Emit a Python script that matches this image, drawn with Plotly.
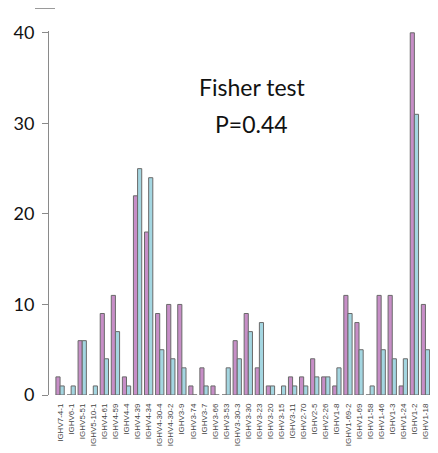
import plotly.graph_objects as go

categories = ["IGHV7-4-1", "IGHV6-1", "IGHV5-51", "IGHV5-10-1", "IGHV4-61", "IGHV4-59",
              "IGHV4-4", "IGHV4-39", "IGHV4-34", "IGHV4-30-4", "IGHV4-30-2", "IGHV3-9",
              "IGHV3-74", "IGHV3-7", "IGHV3-66", "IGHV3-53", "IGHV3-30-3", "IGHV3-30",
              "IGHV3-23", "IGHV3-20", "IGHV3-15", "IGHV3-11", "IGHV2-70", "IGHV2-5",
              "IGHV2-26", "IGHV1-8", "IGHV1-69-2", "IGHV1-69", "IGHV1-58", "IGHV1-46",
              "IGHV1-3", "IGHV1-24", "IGHV1-2", "IGHV1-18"]
group1 = [2, 0, 6, 0, 9, 11, 2, 22, 18, 9, 10, 10, 1, 3, 1, 0, 6, 9, 3, 1, 0, 2, 2, 4,
          2, 1, 11, 8, 0, 11, 11, 1, 40, 10]
group2 = [1, 1, 6, 1, 4, 7, 1, 25, 24, 5, 4, 3, 0, 1, 0, 3, 4, 7, 8, 1, 1, 1, 1, 2,
          2, 3, 9, 5, 1, 5, 4, 4, 31, 5]
y_ticks = [0, 10, 20, 30, 40]

fig = go.Figure()
fig.add_trace(go.Bar(x=categories, y=group1, name="Group 1",
                     marker=dict(color="#c78ec7", line=dict(color="#6a6a6a", width=1))))
fig.add_trace(go.Bar(x=categories, y=group2, name="Group 2",
                     marker=dict(color="#a4d6e1", line=dict(color="#6a6a6a", width=1))))

# page body has an 8px margin, so the figure is offset by 8px
W, H = 430, 445
ml, mr, mt, mb = 41, 7, 23, 58
ph = H - mt - mb
pw = W - ml - mr
fig.update_layout(
    width=W, height=H,
    margin=dict(l=ml, r=mr, t=mt, b=mb, pad=0),
    plot_bgcolor="white", paper_bgcolor="white",
    showlegend=False,
    barmode="group", bargap=0.25, bargroupgap=0,
    xaxis=dict(type="category", range=[-1.0, 33.5], showline=False, showgrid=False,
               automargin=False, ticks="", tickangle=-90,
               tickfont=dict(family="Liberation Sans, Arial", size=8, color="#444444"),
               ticklabelstandoff=6),
    yaxis=dict(range=[0, 40.2], tickvals=y_ticks, showgrid=False, zeroline=False,
               automargin=False,
               showline=True, linecolor="#8a8a8a", linewidth=1,
               ticks="outside", ticklen=6, tickcolor="#8a8a8a", tickwidth=1,
               tickfont=dict(family="Lato, Open Sans", size=18, color="#111111"),
               ticklabelstandoff=4),
    annotations=[
        dict(text="Fisher test", xref="paper", yref="paper", x=0.531, y=308 / ph,
             xanchor="center", yanchor="middle",
             showarrow=False, font=dict(family="Lato, Open Sans", size=23, color="#111111")),
        dict(text="P=0.44", xref="paper", yref="paper", x=0.531, y=271 / ph,
             xanchor="center", yanchor="middle",
             showarrow=False, font=dict(family="Lato, Open Sans", size=23, color="#111111")),
    ],
)
fig.add_shape(type="line", xref="paper", yref="paper",
              x0=(27 - ml) / pw, x1=(47 - ml) / pw,
              y0=(ph + mt - 0.5) / ph, y1=(ph + mt - 0.5) / ph,
              line=dict(color="#9a9a9a", width=1))

fig.write_html("out.html")
